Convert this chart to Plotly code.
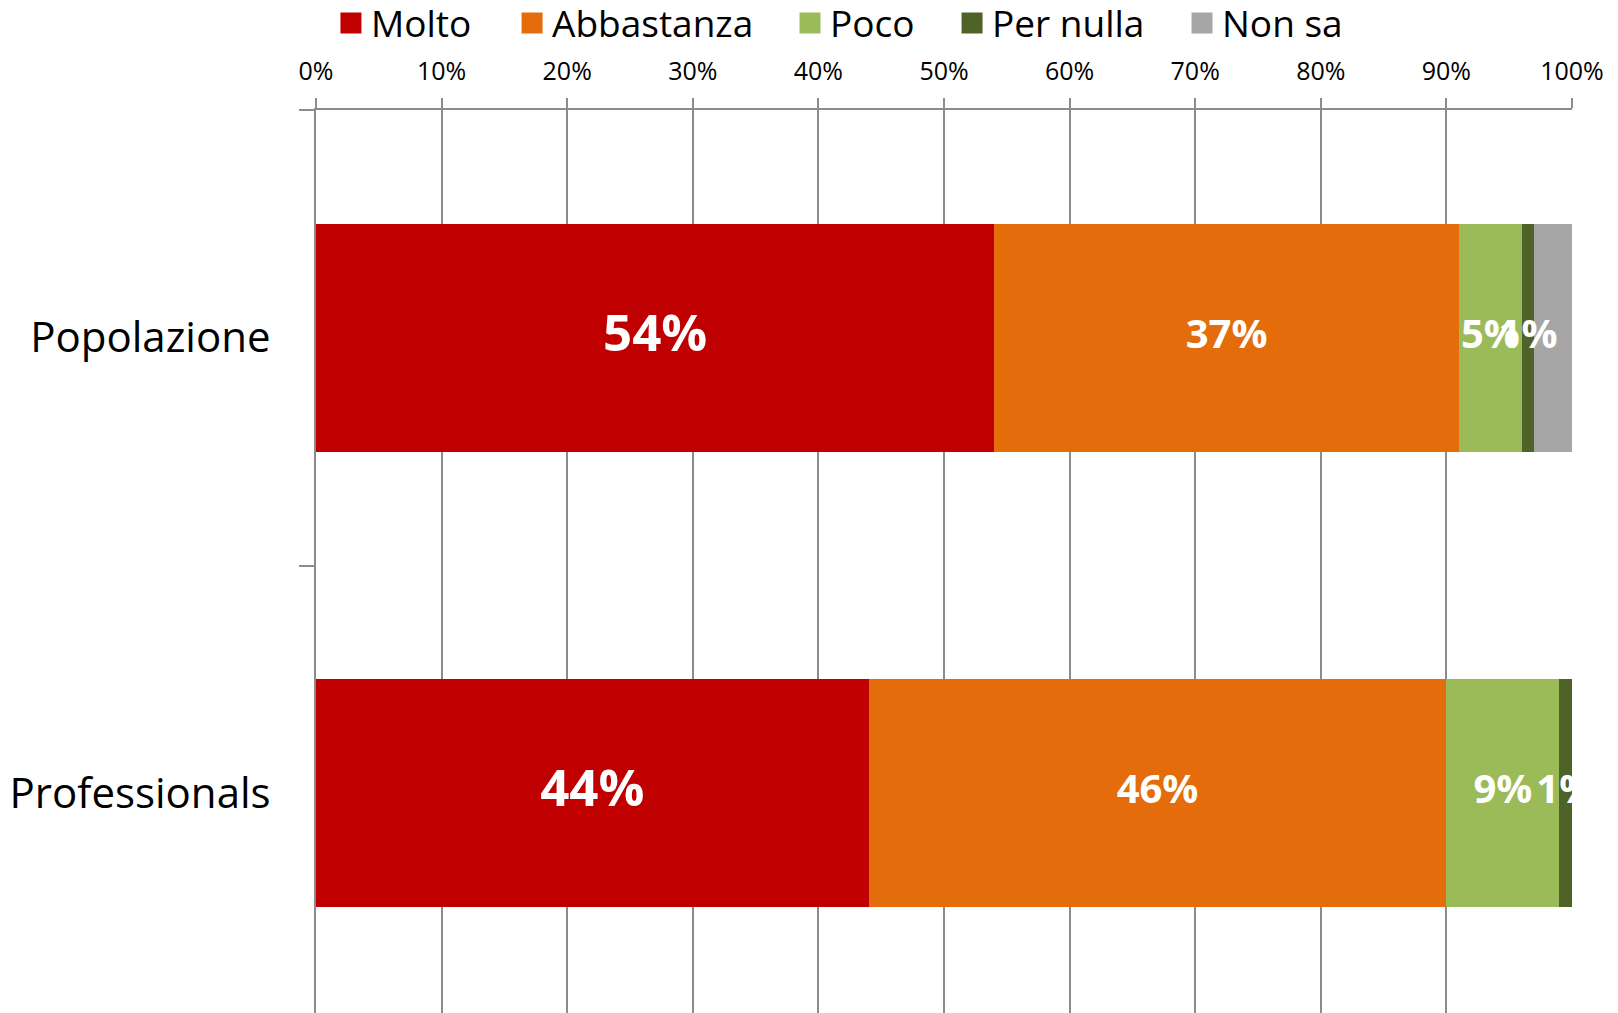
import plotly.graph_objects as go

# ---- data ----
categories = ["Popolazione", "Professionals"]
series_names = ["Molto", "Abbastanza", "Poco", "Per nulla", "Non sa"]
molto = [54, 44]
abbastanza = [37, 46]
poco = [5, 9]
per_nulla = [1, 1]
non_sa = [3, 0]
x_tick_values = [0, 10, 20, 30, 40, 50, 60, 70, 80, 90, 100]
x_tick_labels = ["0%", "10%", "20%", "30%", "40%", "50%", "60%", "70%", "80%", "90%", "100%"]
labelled_series = ["Molto", "Abbastanza", "Poco", "Per nulla"]

values = {"Molto": molto, "Abbastanza": abbastanza, "Poco": poco,
          "Per nulla": per_nulla, "Non sa": non_sa}
colors = {"Molto": "#C00000", "Abbastanza": "#E46C0A", "Poco": "#9BBB59",
          "Per nulla": "#4F6228", "Non sa": "#A6A6A6"}
label_sizes = {"Molto": 51, "Abbastanza": 40, "Poco": 40, "Per nulla": 40}
legend_x = {"Molto": 0.0119, "Abbastanza": 0.1561, "Poco": 0.3774,
            "Per nulla": 0.5064, "Non sa": 0.6895}

FONT = "Open Sans"
GRID = "#8C8C8C"

fig = go.Figure()

# stacked bars
for name in series_names:
    fig.add_trace(go.Bar(
        y=categories, x=values[name], name=name, orientation="h",
        marker=dict(color=colors[name], line=dict(width=0)),
        width=0.5, showlegend=False, hoverinfo="x+name",
    ))

# data labels at segment centres
cum = [0.0] * len(categories)
for name in series_names:
    vals = values[name]
    mids = [c + v / 2 for c, v in zip(cum, vals)]
    if name in labelled_series:
        xs, ys, ts = [], [], []
        for cat, m, v in zip(categories, mids, vals):
            if v > 0:
                xs.append(m); ys.append(cat); ts.append(f"{v}%")
        fig.add_trace(go.Scatter(
            x=xs, y=ys, text=ts, mode="text", showlegend=False,
            textposition="middle center", hoverinfo="skip", cliponaxis=True,
            textfont=dict(family=FONT, size=label_sizes[name], color="white",
                          weight="bold"),
        ))
    cum = [c + v for c, v in zip(cum, vals)]

# legend entries (one legend each, to match spacing)
for i, name in enumerate(series_names):
    lg = "legend" if i == 0 else f"legend{i+1}"
    fig.add_trace(go.Scatter(
        x=[None], y=[None], mode="markers", name=name, legend=lg,
        marker=dict(symbol="square", size=16, color=colors[name],
                    line=dict(width=5, color=colors[name])),
        hoverinfo="skip",
    ))

layout_legends = {}
for i, name in enumerate(series_names):
    lg = "legend" if i == 0 else f"legend{i+1}"
    layout_legends[lg] = dict(
        x=legend_x[name], y=1.095, xanchor="left", yanchor="middle",
        orientation="h", bgcolor="rgba(0,0,0,0)", borderwidth=0,
        font=dict(family=FONT, size=37, color="black"),
    )

fig.update_layout(
    width=1618, height=1013,
    margin=dict(l=308, r=54, t=102, b=0, autoexpand=False),
    paper_bgcolor="white", plot_bgcolor="white",
    barmode="stack",
    font=dict(family=FONT, color="black"),
    **layout_legends,
)

fig.update_xaxes(
    side="top", range=[0, 100], tickvals=x_tick_values, ticktext=x_tick_labels,
    showgrid=True, gridcolor=GRID, gridwidth=1.5,
    showline=True, linecolor=GRID, linewidth=1.5,
    ticks="outside", ticklen=10, tickcolor=GRID, tickwidth=1.5,
    zeroline=False, tickfont=dict(family=FONT, size=25, color="black"),
    ticklabelstandoff=8, fixedrange=True,
)
fig.update_yaxes(
    type="category", categoryorder="array", categoryarray=categories,
    autorange="reversed", tickson="boundaries",
    showgrid=False, showline=True, linecolor=GRID, linewidth=2,
    ticks="outside", ticklen=15, tickcolor=GRID, tickwidth=2,
    zeroline=False, tickfont=dict(family=FONT, size=42, color="black"),
    ticklabelstandoff=35, fixedrange=True,
)

fig.write_html("out.html")
